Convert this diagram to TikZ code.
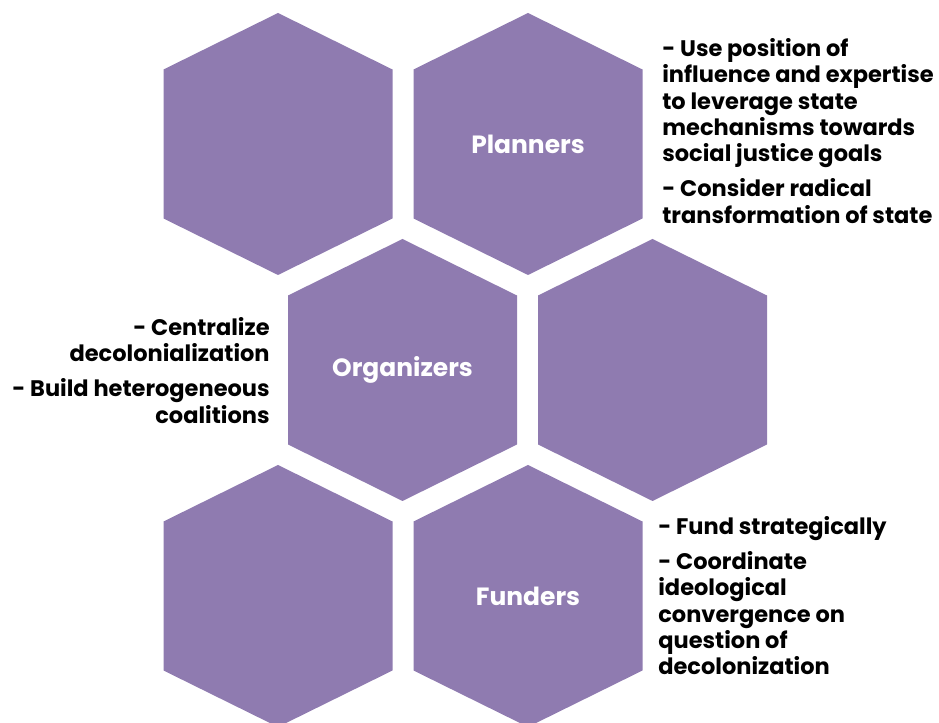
\documentclass[tikz,border=0pt]{standalone}
\usepackage{fontspec}
\setmainfont{Poppins}
\usetikzlibrary{positioning}
\definecolor{hexpurple}{RGB}{143,123,176}
\tikzset{font=\bfseries\fontsize{12.8}{15}\selectfont}

% one honeycomb cell: name, centre x, centre y, label
\newcommand{\hexcell}[4]{%
  \fill[hexpurple] (#2,#3) ++(0,2.62) -- ++(2.29,-1.13) -- ++(0,-2.98)
    -- ++(-2.29,-1.13) -- ++(-2.29,1.13) -- ++(0,2.98) -- cycle;
  \node[hexlabel] (#1) at (#2,#3) {#4};
}

\begin{document}
\begin{tikzpicture}[hexlabel/.style={text=white,inner sep=0pt,font=\bfseries\fontsize{14.2}{17}\selectfont},
    note/.style={text=black,inner sep=0pt}]
      \useasboundingbox (0,0) rectangle (18.78,14.46);

      \hexcell{H0}{5.56}{11.58}{}
      \hexcell{Plan}{10.56}{11.58}{Planners}
      \hexcell{Org}{8.05}{7.06}{Organizers}
      \hexcell{H1}{13.05}{7.06}{}
      \hexcell{H2}{5.56}{2.54}{}
      \hexcell{Fund}{10.56}{2.54}{Funders}

      \node[note,anchor=north west,align=left] (PlanNote) at (13.24,13.70)
        {- Use position of\\influence and expertise\\to leverage state\\mechanisms towards\\social justice goals\\[5pt]
         - Consider radical\\transformation of state};
      \node[note,anchor=north east,align=right] (OrgNote) at (5.40,8.12)
        {- Centralize\\decolonialization\\[5pt]- Build heterogeneous\\coalitions};
      \node[note,anchor=north west,align=left] (FundNote) at (13.16,4.14)
        {- Fund strategically\\[5pt]- Coordinate\\ideological\\convergence on\\question of\\decolonization};
\end{tikzpicture}
\end{document}
